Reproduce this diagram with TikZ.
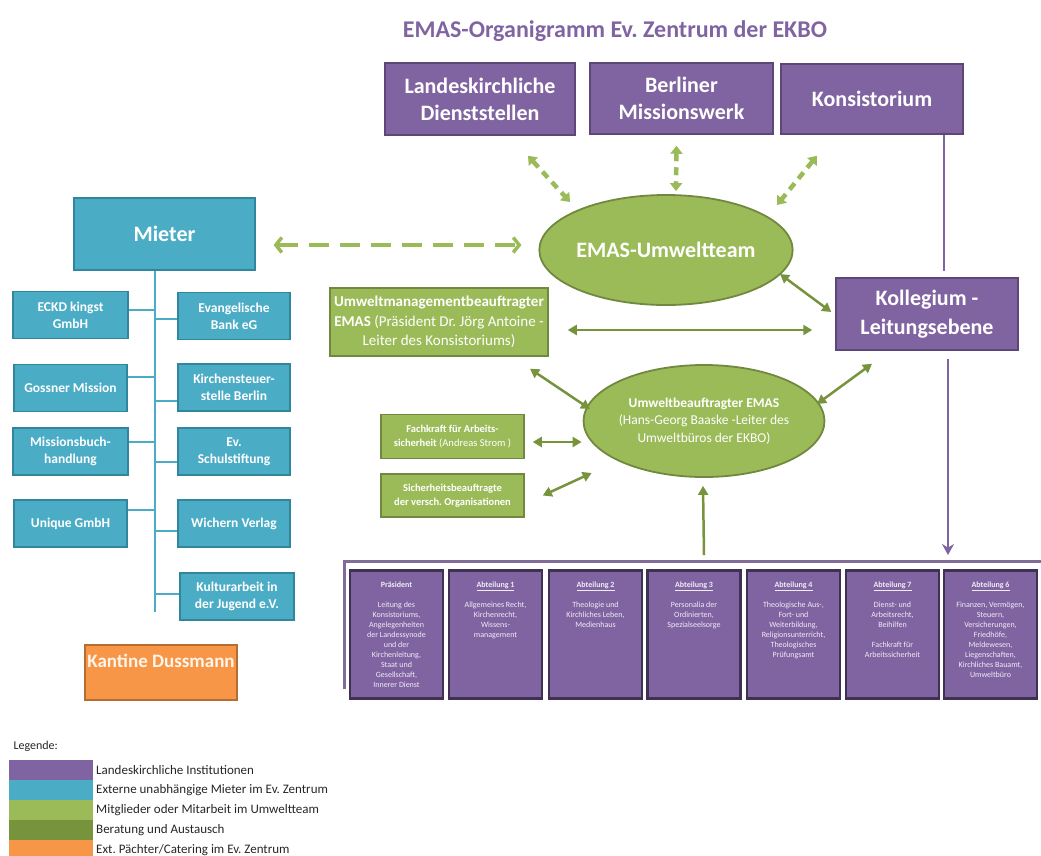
\documentclass[tikz,border=0pt]{standalone}
\usepackage{fontspec}
\setmainfont{Carlito}
\frenchspacing
\usetikzlibrary{shapes.geometric,arrows.meta}
\definecolor{kpurple}{HTML}{8064A2}
\definecolor{kpurpleborder}{HTML}{5C4776}
\definecolor{kdeptborder}{HTML}{3F3151}
\definecolor{kteal}{HTML}{4BACC6}
\definecolor{ktealborder}{HTML}{31859C}
\definecolor{kgreen}{HTML}{9BBB59}
\definecolor{kgreenborder}{HTML}{71893F}
\definecolor{kdarkgreen}{HTML}{77933C}
\definecolor{korange}{HTML}{F79646}
\definecolor{korangeborder}{HTML}{B66D31}
\tikzset{
  toppurple/.style={draw=kpurpleborder, fill=kpurple, line width=1.5pt, text=white, align=center, inner sep=0pt, font=\bfseries\fontsize{22}{27}\selectfont},
  tealbox/.style={draw=ktealborder, fill=kteal, line width=1.2pt, text=white, align=center, inner sep=0pt, font=\bfseries\fontsize{13.5}{17}\selectfont},
  greenbox/.style={draw=kgreenborder, fill=kgreen, line width=1.5pt, text=white, align=center, inner sep=0pt},
  greenoval/.style={ellipse, draw=kgreenborder, fill=kgreen, line width=1.8pt, text=white, align=center, inner sep=0pt},
  deptbox/.style={draw=kdeptborder, fill=kpurple, line width=2.5pt, minimum width=93pt, minimum height=128pt, inner sep=0pt},
  depttext/.style={text=white!88!kpurple, align=center, font=\fontsize{8}{10}\selectfont, inner sep=1pt},
  greenarrow/.style={kdarkgreen, line width=2.5pt, {Triangle[length=9pt,width=10pt]}-{Triangle[length=9pt,width=10pt]}},
  dasharrow/.style={kgreen, line width=3.5pt, dash pattern=on 20pt off 11pt, {Straight Barb[length=6pt,width=15pt]}-{Straight Barb[length=6pt,width=15pt]}},
  smalldash/.style={kgreen, line width=4.5pt, dash pattern=on 8pt off 6pt, {Triangle[length=8pt,width=12pt]}-{Triangle[length=8pt,width=12pt]}},
  purpleline/.style={kpurple, line width=2.5pt},
  barline/.style={kpurple!75!gray, line width=3pt},
  tealline/.style={kteal, line width=2pt},
}
\begin{document}
\begin{tikzpicture}[x=1pt,y=-1pt]
\useasboundingbox (0,0) rectangle (1041,855);
\node[text=kpurple, font=\bfseries\fontsize{24}{28}\selectfont] (title) at (615,31) {EMAS-Organigramm Ev. Zentrum der EKBO};
% landeskirchliche Ebene
\node[toppurple, minimum width=190pt, minimum height=72pt] (landesk) at (480,99) {Landeskirchliche\\Dienststellen};
\node[toppurple, minimum width=183pt, minimum height=71pt] (missionswerk) at (681.5,98.5) {Berliner\\Missionswerk};
\node[toppurple, minimum width=182pt, minimum height=70pt] (konsistorium) at (872,99) {Konsistorium};
\node[toppurple, minimum width=182pt, minimum height=72pt, font=\bfseries\fontsize{22}{29}\selectfont] (kollegium) at (927,314) {Kollegium -\\Leitungsebene};
% Umweltteam
\node[greenoval, minimum width=236pt, minimum height=110pt, font=\bfseries\fontsize{22}{27}\selectfont] (umweltteam) at (666,250) {EMAS-Umweltteam};
\node[greenbox, minimum width=218pt, minimum height=68pt, font=\fontsize{15}{19.5}\selectfont] (umb) at (439,322) {\textbf{Umweltmanagementbeauftragter}\\\textbf{EMAS} (Präsident Dr. Jörg Antoine -\\Leiter des Konsistoriums)};
\node[greenoval, minimum width=218pt, minimum height=112pt, font=\fontsize{13.5}{17.5}\selectfont] (ub) at (704,421) {\textbf{Umweltbeauftragter EMAS}\\(Hans-Georg Baaske -Leiter des\\Umweltbüros der EKBO)};
\node[greenbox, minimum width=143pt, minimum height=44pt, font=\fontsize{10.5}{14}\selectfont] (fachkraft) at (452.5,436.5) {\textbf{Fachkraft für Arbeits-}\\\textbf{sicherheit} (Andreas Strom )};
\node[greenbox, minimum width=143pt, minimum height=43pt, font=\bfseries\fontsize{10.5}{14}\selectfont] (sicherheit) at (452.5,495.5) {Sicherheitsbeauftragte\\der versch. Organisationen};
% Mieter
\node[tealbox, minimum width=181pt, minimum height=72pt, font=\bfseries\fontsize{22}{27}\selectfont] (mieter) at (164.5,234) {Mieter};
\node[tealbox, minimum width=115pt, minimum height=47pt] (eckd) at (70.5,315) {ECKD kingst\\GmbH};
\node[tealbox, minimum width=113pt, minimum height=47pt] (gossner) at (70.5,388) {Gossner Mission};
\node[tealbox, minimum width=115pt, minimum height=47pt] (buch) at (70.5,451.5) {Missionsbuch-\\handlung};
\node[tealbox, minimum width=113pt, minimum height=47pt] (unique) at (70.5,523.5) {Unique GmbH};
\node[tealbox, minimum width=112pt, minimum height=47pt] (bank) at (234,316) {Evangelische\\Bank eG};
\node[tealbox, minimum width=112pt, minimum height=47pt] (kirchensteuer) at (234,387.5) {Kirchensteuer-\\stelle Berlin};
\node[tealbox, minimum width=112pt, minimum height=47pt] (schul) at (234,451.5) {Ev.\\Schulstiftung};
\node[tealbox, minimum width=112pt, minimum height=47pt] (wichern) at (234,523.5) {Wichern Verlag};
\node[tealbox, minimum width=114pt, minimum height=47pt] (kultur) at (237,596.5) {Kulturarbeit in\\der Jugend e.V.};
\coordinate (trunktop) at ([xshift=-9.5pt]mieter.south);
\coordinate (trunkend) at (155,612);
\draw[tealline] (trunktop) -- (trunkend);
\foreach \b/\d in {eckd/5,gossner/11,buch/10,unique/14}
  \draw[tealline] (\b.east) ++(0,-\d) coordinate (tmp) -- (tmp -| trunktop);
\foreach \b/\d in {bank/3,kirchensteuer/13,schul/10,wichern/7,kultur/-3}
  \draw[tealline] (\b.west) ++(0,\d) coordinate (tmp) -- (tmp -| trunktop);
\node[draw=korangeborder, fill=korange, line width=1.5pt, minimum width=152pt, minimum height=55pt, inner sep=0pt, text=orange!8!white, font=\bfseries\fontsize{19}{23}\selectfont, align=center] (kantine) at (161,672.5) {Kantine Dussmann\\~};
% Abteilungen
\coordinate (barleft) at (344,561);
\coordinate (barright) at (1041,561);
\draw[barline] (344,689) -- (barleft) -- (barright);
\foreach \n/\x/\head/\body in {
  praes/396.5/{\textbf{Präsident}}/{Leitung des\\Konsistoriums,\\Angelegenheiten\\der Landessynode\\und der\\Kirchenleitung,\\Staat und\\Gesellschaft,\\Innerer Dienst},
  abt1/495.5/{\textbf{\underline{Abteilung 1}}}/{Allgemeines Recht,\\Kirchenrecht,\\Wissens-\\management},
  abt2/595.5/{\textbf{\underline{Abteilung 2}}}/{Theologie und\\Kirchliches Leben,\\Medienhaus},
  abt3/694/{\textbf{\underline{Abteilung 3}}}/{Personalia der\\Ordinierten,\\Spezialseelsorge},
  abt4/793.5/{\textbf{\underline{Abteilung 4}}}/{Theologische Aus-,\\Fort- und\\Weiterbildung,\\Religionsunterricht,\\Theologisches\\Prüfungsamt},
  abt7/892.5/{\textbf{\underline{Abteilung 7}}}/{Dienst- und\\Arbeitsrecht,\\Beihilfen\\[10pt]Fachkraft für\\Arbeitssicherheit},
  abt6/990.5/{\textbf{\underline{Abteilung 6}}}/{Finanzen, Vermögen,\\Steuern,\\Versicherungen,\\Friedhöfe,\\Meldewesen,\\Liegenschaften,\\Kirchliches Bauamt,\\Umweltbüro}}
{
  \node[deptbox] (\n) at (\x,634.5) {};
  \node[depttext, anchor=north] (\n-text) at ([yshift=-11pt]\n.north) {\head\\[10pt]\body};
}
% Verbindungen
\draw[smalldash] ([shift={(48,20)}]landesk.south) -- ([shift={(-96,-48)}]umweltteam.center);
\draw[smalldash] ([shift={(-5,11)}]missionswerk.south) -- ([shift={(10,-3)}]umweltteam.north);
\draw[smalldash] ([shift={(-55,21)}]konsistorium.south) -- ([shift={(111,-45)}]umweltteam.center);
\draw[dasharrow] ([shift={(18,11)}]mieter.east) -- ([shift={(-17,-5)}]umweltteam.west);
\draw[greenarrow] ([shift={(114,24)}]umweltteam.center) -- ([shift={(-4,-2)}]kollegium.west);
\draw[greenarrow] ([shift={(19,8)}]umb.east) -- ([shift={(-23,16)}]kollegium.west);
\draw[greenarrow] ([shift={(113,-17)}]ub.center) -- ([shift={(-55,13)}]kollegium.south);
\draw[greenarrow] ([shift={(91,12)}]umb.south) -- ([shift={(-114,-12)}]ub.center);
\draw[greenarrow] ([shift={(8,5.5)}]fachkraft.east) -- ([shift={(-1,21)}]ub.west);
\draw[greenarrow] ([shift={(18,0)}]sicherheit.east) -- ([shift={(9,52)}]ub.west);
\draw[kdarkgreen, line width=2.5pt, -{Triangle[length=9pt,width=10pt]}] ([yshift=6pt]ub.south |- barleft) -- ([shift={(-1,8)}]ub.south);
\draw[purpleline] ([xshift=72pt]konsistorium.south) -- ([shift={(17,-6)}]kollegium.north);
\draw[purpleline, -{Stealth[length=11pt,width=12pt]}] ([shift={(21,8)}]kollegium.south) -- ([shift={(21,-6)}]kollegium.south |- barleft);
% Legende
\node[anchor=west, font=\fontsize{12}{14}\selectfont, text=black!85] (legende) at (10,746) {Legende:};
\foreach \c/\t [count=\i] in {kpurple/Landeskirchliche Institutionen, kteal/Externe unabhängige Mieter im Ev. Zentrum, kgreen/Mitglieder oder Mitarbeit im Umweltteam, kdarkgreen/Beratung und Austausch, korange/{Ext. Pächter/Catering im Ev. Zentrum}}
{
  \fill[\c] (9,740+20*\i) rectangle (93,760+20*\i);
  \node[anchor=west, font=\fontsize{13}{15}\selectfont, text=black!85, inner sep=0pt] (leg\i) at (96,750+20*\i) {\t};
}
\end{tikzpicture}
\end{document}
